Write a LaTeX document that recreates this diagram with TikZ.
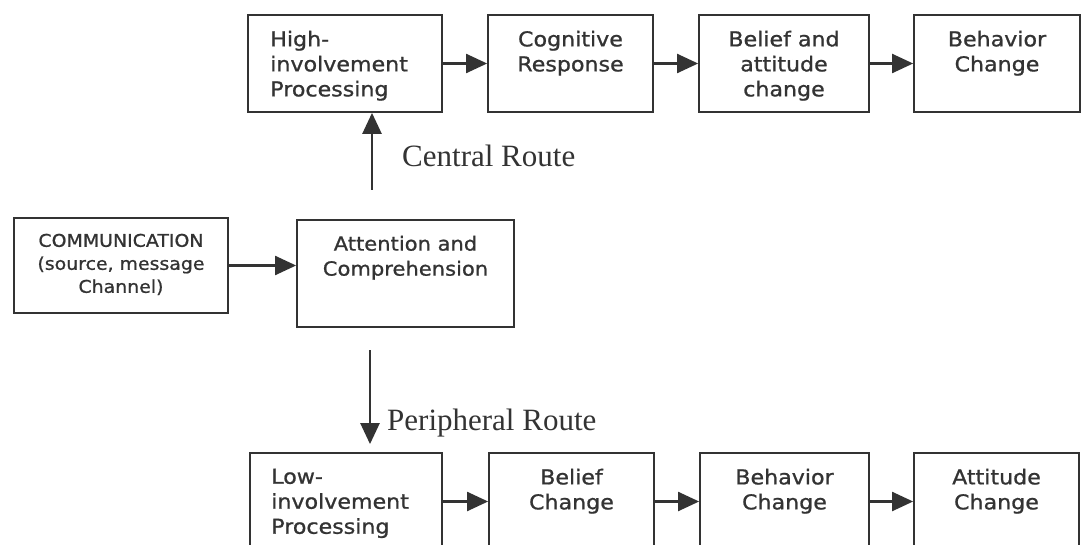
\documentclass[tikz,border=0pt]{standalone}
\usepackage{fontspec}
\setmainfont{DejaVu Sans}
\newfontfamily\boxfont{DejaVu Sans}[FakeStretch=1.08,FakeBold=1]
\newfontfamily\routefont{Liberation Serif}
\usetikzlibrary{arrows.meta}
\definecolor{ink}{HTML}{333333}
\begin{document}
\begin{tikzpicture}[x=1pt,y=-1pt,
  box/.style={draw=ink,line width=1.8pt,inner sep=0pt,minimum height=97pt},
  txt/.style={text=ink,inner sep=0pt,align=center,font=\boxfont\fontsize{20.5}{25}\selectfont,
              execute at begin node=\rule{0pt}{16pt}},
  txtl/.style={txt,align=left},
  route/.style={text=ink,inner sep=0pt,font=\routefont\fontsize{31}{31}\selectfont},
  arr/.style={draw=ink,line width=2.2pt,-{Triangle[length=21pt,width=19pt]}}]
\useasboundingbox (0,0) rectangle (1083,545);
\clip (0,0) rectangle (1083,545);
% top row
\node[box,minimum width=194pt] (b1) at (345,63.5) {};
\node[box,minimum width=165pt] (b2) at (570.5,63.5) {};
\node[box,minimum width=170pt] (b3) at (784,63.5) {};
\node[box,minimum width=166pt] (b4) at (997,63.5) {};
\node[txtl,anchor=north west] (t1) at ([shift={(23,16.5)}]b1.north west) {High-\\involvement\\Processing};
\node[txt,anchor=north] (t2) at ([shift={(0,16.5)}]b2.north) {Cognitive\\Response};
\node[txt,anchor=north] (t3) at ([shift={(0,16.5)}]b3.north) {Belief and\\attitude\\change};
\node[txt,anchor=north] (t4) at ([shift={(0,16.5)}]b4.north) {Behavior\\Change};
% middle row
\node[box,minimum width=214pt,minimum height=95pt] (comm) at (121,265.5) {};
\node[box,minimum width=217pt,minimum height=107pt] (att) at (405.5,273.5) {};
\node[txt,anchor=north,font=\boxfont\fontsize{17.5}{23}\selectfont] (tc) at ([shift={(0,16.5)}]comm.north) {COMMUNICATION\\(source, message\\Channel)};
\node[txt,anchor=north,font=\boxfont\fontsize{19.5}{25}\selectfont] (ta) at ([shift={(0,16.5)}]att.north) {Attention and\\Comprehension};
% bottom row
\node[box,minimum width=192pt] (l1) at (346,501.5) {};
\node[box,minimum width=165pt] (l2) at (571.5,501.5) {};
\node[box,minimum width=169pt] (l3) at (784.5,501.5) {};
\node[box,minimum width=165pt] (l4) at (996.5,501.5) {};
\node[txtl,anchor=north west] (u1) at ([shift={(22,16.5)}]l1.north west) {Low-\\involvement\\Processing};
\node[txt,anchor=north] (u2) at ([shift={(0,16.5)}]l2.north) {Belief\\Change};
\node[txt,anchor=north] (u3) at ([shift={(0,16.5)}]l3.north) {Behavior\\Change};
\node[txt,anchor=north] (u4) at ([shift={(0,16.5)}]l4.north) {Attitude\\Change};
% route labels
\node[route,anchor=base west] (cr) at (402,167) {Central Route};
\node[route,anchor=base west] (pr) at (387,430) {Peripheral Route};
% connectors
\draw[arr] (b1.east) -- (b2.west);
\draw[arr] (b2.east) -- (b3.west);
\draw[arr] (b3.east) -- (b4.west);
\draw[arr] (l1.east) -- (l2.west);
\draw[arr] (l2.east) -- (l3.west);
\draw[arr] (l3.east) -- (l4.west);
\draw[arr] (comm.east) -- (comm.east -| att.west);
\coordinate (cstart) at (372,190);
\draw[arr,line width=2.6pt] (cstart) -- (cstart |- b1.south);
\coordinate (pstart) at (370,350);
\draw[arr,line width=2.6pt,shorten >=8pt] (pstart) -- (pstart |- l1.north);
\end{tikzpicture}
\end{document}
